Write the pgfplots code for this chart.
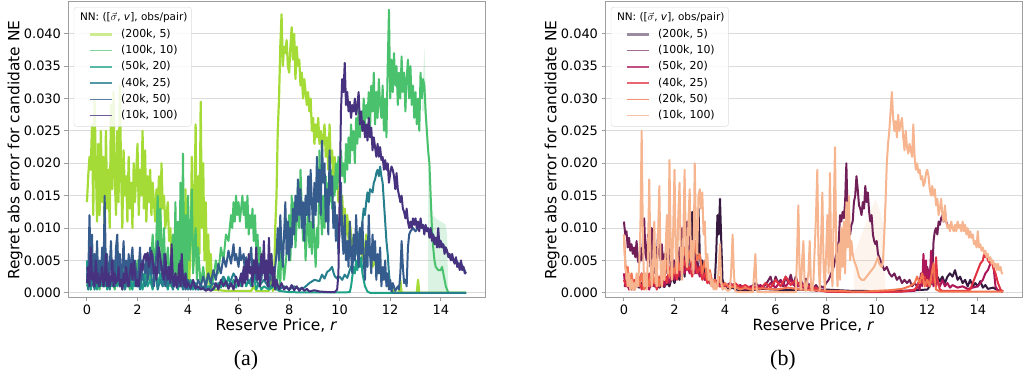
\documentclass[border=0pt]{standalone}
\usepackage{pgfplots}
\pgfplotsset{compat=1.18}
\usepackage{fontspec}
\setmainfont{DejaVu Sans}
\newfontfamily\capfont{Liberation Serif}
\definecolor{v1}{HTML}{A5DB36}
\definecolor{v2}{HTML}{4AC16D}
\definecolor{v3}{HTML}{1FA187}
\definecolor{v4}{HTML}{277F8E}
\definecolor{v5}{HTML}{365C8D}
\definecolor{v6}{HTML}{46327E}
\definecolor{r1}{HTML}{35193E}
\definecolor{r2}{HTML}{701F57}
\definecolor{r3}{HTML}{AD1759}
\definecolor{r4}{HTML}{E13342}
\definecolor{r5}{HTML}{F37651}
\definecolor{r6}{HTML}{F6B48F}
\definecolor{spine}{rgb}{0.62,0.62,0.62}
\definecolor{gridc}{rgb}{0.86,0.86,0.86}
\newcommand{\lf}{\fontsize{11}{13}\selectfont}
\newcommand{\ltitle}{\fontsize{10.5}{12.5}\selectfont\hspace*{-41bp}NN: ([$\vec{\sigma}$, \textit{v}], obs/pair)}
\pgfplotsset{
  myaxis/.style={
    scale only axis, width=417bp, height=296bp,
    xmin=-0.75, xmax=15.75, ymin=-0.8, ymax=44.9,
    xtick={0,2,4,6,8,10,12,14},
    ytick={0,5,10,15,20,25,30,35,40},
    yticklabels={0.000,0.005,0.010,0.015,0.020,0.025,0.030,0.035,0.040},
    /pgf/number format/assume math mode=true,
    tick label style={font=\fontsize{13}{15}\selectfont},
    axis line style={spine, line width=1bp},
    tick align=outside, tick pos=left, major tick length=3.5bp,
    tick style={spine, line width=1bp},
    ymajorgrids, major grid style={gridc, line width=1bp},
    xlabel={Reserve Price, \textit{r}},
    ylabel={Regret abs error for candidate NE},
    every axis x label/.style={at={(axis description cs:0.5,-0.093)}, anchor=center, font=\fontsize{15.5}{18}\selectfont},
    every axis y label/.style={at={(axis description cs:-0.127,0.5)}, rotate=90, anchor=center, font=\fontsize{15.5}{18}\selectfont},
    legend cell align=left,
    legend image code/.code={\path (0bp,0bp) (40bp,0bp); \draw[##1] (14bp,0bp) -- (36bp,0bp);},
    legend style={at={(0.014,0.983)}, anchor=north west, draw=gridc, rounded corners=2.5bp, fill=white, fill opacity=0.85, text opacity=1, font=\lf, inner xsep=0bp, inner ysep=2.5bp, row sep=0bp, nodes={inner xsep=4bp, inner ysep=2.15bp, text height=9bp, text depth=3bp}},
    every axis plot/.append style={line width=2bp, line join=round},
  }
}
\begin{document}
\begin{tikzpicture}
\useasboundingbox (0,0) rectangle (1026bp,379bp);
% ---------------- panel (a) ----------------
\begin{axis}[myaxis, at={(68bp,81bp)}, anchor=south west]
\addlegendimage{empty legend}
\addlegendentry{\ltitle}
\addlegendimage{v1!55!white, line width=3bp}\addlegendentry{\lf (200k, 5)}
\addlegendimage{v2!70!white, line width=1.5bp}\addlegendentry{\lf (100k, 10)}
\addlegendimage{v3!75!white, line width=1.5bp}\addlegendentry{\lf (50k, 20)}
\addlegendimage{v4!80!white, line width=1.5bp}\addlegendentry{\lf (40k, 25)}
\addlegendimage{v5!80!white, line width=1.5bp}\addlegendentry{\lf (20k, 50)}
\addlegendimage{v6!80!white, line width=1.5bp}\addlegendentry{\lf (10k, 100)}
% bands
\addplot[forget plot, draw=none, fill=v2, fill opacity=0.2] coordinates {(13.5,0)(13.5,20)(13.55,18)(13.6,14)(13.7,12)(13.8,11.5)(14,11)(14.2,10.5)(14.25,9)(14.3,0)} -- cycle;
\addplot[forget plot, draw=none, fill=v2, fill opacity=0.2] coordinates {(13.25,28)(13.35,38)(13.45,27)(13.5,20)(13.45,22)(13.35,28)} -- cycle;
% (200k,5)
\addplot[forget plot, v1, line width=2.2bp] coordinates {(0,14)(0.05,18)(0.1,21)(0.15,19)(0.2,26)(0.25,12)(0.3,30)(0.35,20)(0.4,11)(0.45,23)(0.5,12)(0.55,25)(0.6,14)(0.65,21)(0.7,9)(0.75,25)(0.8,13)(0.85,19)(0.9,10)(0.95,29)(1,16)(1.05,31)(1.1,18)(1.15,12)(1.2,25)(1.25,14)(1.3,32)(1.35,19)(1.4,10)(1.45,22)(1.5,15)(1.55,18)(1.6,11)(1.65,21)(1.7,13)(1.75,17)(1.8,10)(1.85,20)(1.9,14)(2,23)(2.05,12)(2.1,19)(2.15,15)(2.2,25)(2.25,13)(2.3,22)(2.35,11)(2.4,18)(2.45,14)(2.5,19)(2.55,12)(2.6,17)(2.7,11)(2.75,16)(2.8,13)(2.85,18)(2.9,10)(2.95,20)(3,13)(3.05,15)(3.1,10)(3.2,14)(3.25,8)(3.3,10)(3.35,5)(3.4,8)(3.45,3)(3.5,6)(3.55,2)(3.6,8)(3.65,1)(3.7,3)(3.75,1)(3.8,5)(3.85,1)(3.9,16)(3.95,3)(4,12)(4.05,2)(4.1,8)(4.15,21)(4.2,4)(4.25,12)(4.3,26)(4.35,3)(4.4,18)(4.45,6)(4.5,29.5)(4.55,10)(4.6,20)(4.65,5)(4.7,14)(4.75,2)(4.8,9)(4.85,1)(4.9,6)(4.95,0.5)(5.5,0.3)(6.5,0.3)(6.6,1)(6.7,0.3)(7.2,0.3)(7.3,2)(7.35,0.3)(7.4,0.5)(7.45,10)(7.5,15)(7.55,25)(7.6,30)(7.65,38)(7.7,43)(7.75,35)(7.8,38)(7.85,37)(7.9,39)(7.95,35)(8,34)(8.05,38)(8.1,41)(8.15,36)(8.2,40)(8.25,33)(8.3,38)(8.35,35)(8.4,36)(8.45,32)(8.5,34)(8.55,30)(8.6,33)(8.7,29)(8.75,31)(8.8,28)(8.85,30)(8.9,25)(8.95,27)(9,23)(9.05,26)(9.1,24)(9.15,27)(9.2,23)(9.25,25)(9.3,22)(9.4,26)(9.45,21)(9.5,24)(9.55,19)(9.6,26)(9.65,20)(9.7,22)(9.75,17)(9.8,21)(9.85,16)(9.9,18)(9.95,14)(10,16)(10.05,12)(10.1,15)(10.15,10)(10.2,13)(10.25,9)(10.3,12)(10.35,8)(10.4,11)(10.5,7)(10.6,9)(10.7,6)(10.8,8)(10.9,5)(11,7)(11.05,9)(11.1,8)(11.15,6)(11.2,7)(11.3,4)(11.4,5)(11.5,3)(11.6,4)(11.7,2)(11.8,2.5)(11.9,1)(12,1.5)(12.1,0.5)(12.2,0)(12.35,0)(12.4,2)(12.45,0)(13.05,0)(13.1,2)(13.15,0)(15,0)};
% (100k,10)
\addplot[forget plot, v2] coordinates {(0,1)(0.1,3)(0.15,0.5)(0.2,4)(0.3,1)(0.4,2)(0.5,0.5)(0.6,3)(0.7,1)(0.8,5)(0.9,1)(1,2)(1.1,0.5)(1.2,3)(1.3,1)(1.4,4)(1.5,1)(1.6,2)(1.7,0.5)(1.8,3)(1.9,1)(2,5)(2.1,1)(2.2,3)(2.3,1)(2.4,6)(2.5,2)(2.6,9)(2.7,3)(2.8,15)(2.85,4)(2.9,13)(3,3)(3.05,10)(3.1,2)(3.2,7)(3.3,1)(3.4,9)(3.45,2)(3.5,14)(3.55,3)(3.6,11)(3.65,1)(3.7,17)(3.75,4)(3.8,21.5)(3.85,3)(3.9,12)(3.95,2)(4,15)(4.05,5)(4.1,9)(4.15,16)(4.2,3)(4.3,10)(4.35,2)(4.4,7)(4.5,1)(4.6,4)(4.7,0.5)(4.8,3)(4.9,1)(5,2)(5.1,5)(5.2,3)(5.3,7)(5.4,5)(5.5,9)(5.6,8)(5.7,12)(5.75,10)(5.8,14)(5.85,11)(5.9,15)(5.95,12)(6,14)(6.05,11)(6.1,13)(6.15,15)(6.2,12)(6.25,14)(6.3,10)(6.35,15)(6.4,9)(6.45,12)(6.5,10)(6.55,13)(6.6,8)(6.65,12)(6.7,6)(6.75,9)(6.8,4)(6.85,7)(6.9,3)(7,5)(7.05,2)(7.1,4)(7.2,1)(7.3,6)(7.35,1)(7.4,3)(7.5,0.5)(7.6,5)(7.65,1)(7.7,8)(7.8,2)(7.9,6)(8,12)(8.05,5)(8.1,15)(8.15,9)(8.2,14)(8.25,7)(8.3,11)(8.35,17)(8.4,10)(8.45,19)(8.5,13)(8.55,8)(8.6,12)(8.65,5)(8.7,9)(8.75,14)(8.8,7)(8.85,11)(8.9,6)(8.95,13)(9,8)(9.05,4)(9.1,10)(9.15,7)(9.2,22)(9.25,13)(9.3,9)(9.35,15)(9.4,10)(9.45,18)(9.5,12)(9.55,17)(9.6,14)(9.65,19)(9.7,13)(9.75,18)(9.8,15)(9.85,20)(9.9,16)(9.95,21)(10,17)(10.05,22)(10.1,18)(10.15,20)(10.2,17)(10.25,23)(10.3,19)(10.35,24)(10.4,20)(10.45,26)(10.5,22)(10.55,25)(10.6,20)(10.65,27)(10.7,23)(10.75,29)(10.8,24)(10.85,28)(10.9,25)(10.95,30)(11,26)(11.05,29)(11.1,27)(11.15,31)(11.2,25)(11.25,32)(11.3,28)(11.35,34)(11.4,26)(11.45,31)(11.5,27)(11.55,33)(11.6,29)(11.65,27)(11.7,32)(11.75,25)(11.8,30)(11.85,24)(11.9,35)(11.95,43.7)(12,30)(12.05,36)(12.1,31)(12.15,37)(12.2,32)(12.25,35)(12.3,29)(12.35,34)(12.4,30)(12.45,36.5)(12.5,31)(12.55,34)(12.6,28)(12.65,33)(12.7,36)(12.75,30)(12.8,35)(12.85,29)(12.9,32)(12.95,27)(13,31)(13.05,26)(13.1,30)(13.15,25)(13.2,34)(13.25,30)(13.3,33)(13.35,32)(13.4,28)(13.45,25)(13.5,22)(13.55,20)(13.6,15)(13.65,10)(13.7,7)(13.75,5)(13.8,4)(13.9,3.5)(14,3.5)(14.05,4)(14.1,3)(14.15,2)(14.2,1)(14.3,0)(15,0)};
% (50k,20)
\addplot[forget plot, v3] coordinates {(0,5)(0.05,1)(0.1,3)(0.15,0.5)(0.2,2)(0.3,1)(0.35,3)(0.4,0.5)(0.5,2)(0.6,1)(0.7,3)(0.8,0.5)(0.9,2)(1,1)(1.1,4)(1.2,1)(1.3,2)(1.4,0.5)(1.5,3)(1.6,1)(1.7,2)(1.8,0.5)(1.9,4)(2,1)(2.1,2)(2.2,0.5)(2.3,3)(2.4,1)(2.5,2)(2.6,0.5)(2.7,4)(2.8,1)(2.9,3)(3,1)(3.1,2)(3.2,0.5)(3.3,3)(3.4,1)(3.5,2)(3.6,0.5)(3.7,2)(3.8,1)(3.9,3)(4,1)(4.1,2)(4.2,0.5)(4.3,1.5)(4.4,0.5)(4.5,1)(4.6,0.5)(4.8,1)(5,0.5)(5.2,1.5)(5.3,0.8)(5.4,2)(5.5,1)(5.6,2.5)(5.7,1)(5.8,2)(5.9,0.8)(6,2)(6.1,1)(6.2,3)(6.3,1)(6.4,2)(6.5,1)(6.6,2.5)(6.7,0.5)(6.8,1.5)(6.9,0.5)(7,1)(7.2,0.5)(7.4,1)(7.6,0.3)(7.8,0.2)(8,0.1)(9,0.05)(10,0.05)(10.4,0.1)(10.45,1)(10.5,2.5)(10.55,4)(10.6,3)(10.65,5)(10.7,3.5)(10.75,6)(10.8,4)(10.85,5.5)(10.9,3)(10.95,2)(11,1)(11.1,0.2)(11.2,0)(15,0)};
% (40k,25)
\addplot[forget plot, v4] coordinates {(0,3)(0.05,0.5)(0.1,6)(0.15,1)(0.2,3)(0.3,0.5)(0.4,2.5)(0.5,1)(0.6,4)(0.7,1)(0.8,2)(0.9,0.5)(1,3)(1.1,1)(1.2,5)(1.3,1.5)(1.4,3)(1.5,0.5)(1.6,2)(1.7,1)(1.8,4)(1.9,1)(2,2.5)(2.1,0.5)(2.2,3)(2.3,1)(2.4,2)(2.5,4)(2.6,1)(2.7,3)(2.8,0.5)(2.9,2)(3,1)(3.1,3.5)(3.2,1)(3.3,2)(3.4,0.5)(3.5,2.5)(3.6,1)(3.7,2)(3.8,0.5)(3.9,1.5)(4,0.5)(4.2,1.5)(4.4,0.5)(4.6,1)(4.8,0.5)(5,1.5)(5.2,1)(5.4,2.5)(5.6,1)(5.8,3)(6,1.5)(6.2,3.5)(6.4,1.5)(6.6,3)(6.8,1)(7,2)(7.2,0.8)(7.4,1.5)(7.6,0.5)(7.8,1)(8,0.5)(8.2,1)(8.4,0.6)(8.6,0.8)(8.8,1.5)(9,2)(9.2,1.8)(9.3,2.8)(9.4,2.2)(9.5,3.2)(9.6,3.5)(9.7,4)(9.75,3.2)(9.8,2.6)(9.9,2.2)(10,2.5)(10.1,2)(10.2,2.8)(10.3,2.3)(10.4,3.5)(10.5,4.5)(10.6,5.5)(10.7,7)(10.75,8.5)(10.8,10)(10.85,9)(10.9,11)(10.95,13)(11,12)(11.05,14)(11.1,15.5)(11.15,14)(11.2,16)(11.3,15.5)(11.35,17)(11.4,17.5)(11.45,18.5)(11.5,19)(11.55,18)(11.6,19.5)(11.65,18)(11.7,17)(11.75,14)(11.8,11)(11.85,8)(11.9,6)(11.95,3)(12,1)(12.1,0)(15,0)};
% (20k,50)
\addplot[forget plot, v5] coordinates {(0,4)(0.05,2)(0.1,12)(0.15,3)(0.2,9)(0.25,1)(0.3,6)(0.35,2)(0.4,8)(0.45,1)(0.5,5)(0.55,2)(0.6,7)(0.65,1)(0.7,15)(0.75,3)(0.8,6)(0.85,1)(0.9,4)(0.95,8)(1,2)(1.05,5)(1.1,1)(1.15,7)(1.2,9)(1.25,2)(1.3,6)(1.35,1)(1.4,4)(1.45,8)(1.5,2)(1.55,5)(1.6,1)(1.65,6)(1.7,3)(1.8,7)(1.85,2)(1.9,5)(2,1)(2.05,4)(2.1,7)(2.15,2)(2.2,5)(2.3,3)(2.35,6)(2.4,2)(2.5,7)(2.55,3)(2.6,6)(2.65,1)(2.7,4)(2.8,8)(2.85,3)(2.9,5)(3,2)(3.05,6)(3.1,1)(3.2,4)(3.3,2)(3.35,6)(3.4,1)(3.5,3)(3.6,1)(3.7,5)(3.75,1)(3.8,3)(3.9,0.5)(4,2)(4.1,0.5)(4.2,1.5)(4.3,0.5)(4.4,2)(4.5,1)(4.6,2.5)(4.7,1)(4.8,3)(4.9,1.5)(5,3.5)(5.1,2)(5.2,4.5)(5.3,3)(5.4,5.5)(5.5,4)(5.6,6.5)(5.7,4.5)(5.8,7.5)(5.85,5)(5.9,6)(6,4)(6.05,7)(6.1,5)(6.2,6)(6.25,3)(6.3,5.5)(6.4,4)(6.5,7)(6.55,3)(6.6,5)(6.7,2)(6.8,4.5)(6.9,2)(7,6)(7.05,2)(7.1,5)(7.2,1)(7.3,4)(7.4,2)(7.5,6)(7.55,10)(7.6,5)(7.65,12)(7.7,7)(7.75,4)(7.8,9)(7.85,14)(7.9,6)(7.95,11)(8,5)(8.05,10)(8.1,7)(8.15,13)(8.2,9)(8.25,15)(8.3,11)(8.35,17.5)(8.4,12)(8.45,16)(8.5,10)(8.55,14)(8.6,8)(8.65,15)(8.7,12)(8.75,18)(8.8,11)(8.85,19)(8.9,14)(8.95,10)(9,17)(9.05,12)(9.1,21)(9.15,14)(9.2,19)(9.25,12)(9.3,23.5)(9.35,17)(9.4,20)(9.45,11)(9.5,16)(9.55,9)(9.6,22)(9.65,15)(9.7,18)(9.75,10)(9.8,14)(9.85,8)(9.9,12)(9.95,6)(10,10)(10.05,17)(10.1,9)(10.15,6)(10.2,12)(10.25,5)(10.3,8)(10.35,4)(10.4,11)(10.45,6)(10.5,3)(10.55,9)(10.6,5)(10.65,12)(10.7,7)(10.75,4)(10.8,10)(10.85,6)(10.9,11)(10.95,5)(11,2)(11.05,8)(11.1,4)(11.15,12)(11.2,6)(11.25,3)(11.3,9)(11.35,5)(11.4,8)(11.45,2)(11.5,6)(11.55,3)(11.6,7)(11.65,1)(11.7,4)(11.75,2)(11.8,5)(11.85,1)(11.9,3)(11.95,0.5)(12,2)(12.05,0.2)(12.1,1.5)(12.2,0.3)(12.3,1)(12.35,0.5)(12.4,3)(12.45,8)(12.5,4)(12.55,1.5)(12.6,2)(12.65,1)(12.7,7)(12.75,9)(12.8,9.5)(12.9,10)(13,9.5)(13.1,10)(13.2,10.5)(13.3,10)(13.4,10.2)(13.5,9.8)(13.6,9.6)(13.7,8.8)(13.8,8.3)(13.9,8.5)(14,7.8)(14.1,7.3)(14.2,6.8)(14.3,5.8)(14.4,5.2)(14.5,5)(14.6,5.2)(14.7,4.4)(14.8,4.6)(14.9,3.8)(15,3)};
% (10k,100)
\addplot[forget plot, v6] coordinates {(0,1.5)(0.05,4)(0.1,1)(0.15,7)(0.2,2)(0.25,3)(0.3,1)(0.35,5)(0.4,1.5)(0.45,3)(0.5,1)(0.55,2)(0.6,4)(0.65,1)(0.7,2)(0.75,6)(0.8,1)(0.85,3)(0.9,1)(0.95,2)(1,5)(1.05,1)(1.1,3)(1.15,1.5)(1.2,2)(1.25,4)(1.3,1)(1.35,2)(1.4,0.5)(1.45,3)(1.5,1.5)(1.55,4)(1.6,2)(1.65,1)(1.7,3)(1.75,4.5)(1.8,2)(1.85,5)(1.9,3)(1.95,1)(2,2)(2.05,1)(2.1,3)(2.15,4.5)(2.2,3.5)(2.25,5.5)(2.3,6)(2.35,5)(2.4,6.2)(2.45,4)(2.5,5)(2.55,6.5)(2.6,5)(2.65,3)(2.7,4)(2.75,2)(2.8,5)(2.85,7)(2.9,5.5)(2.95,4)(3,3)(3.05,2)(3.1,6)(3.15,3)(3.2,2)(3.25,4)(3.3,1.5)(3.35,7.5)(3.4,2)(3.45,1)(3.5,3)(3.55,0.8)(3.6,2)(3.65,4.5)(3.7,1)(3.75,6)(3.8,2)(3.85,1)(3.9,3)(3.95,0.8)(4,1.5)(4.1,0.8)(4.2,2)(4.3,0.7)(4.4,1)(4.5,0.5)(4.6,0.8)(4.7,0.3)(4.8,0.6)(4.9,0.3)(5,0.6)(5.1,1.5)(5.2,0.5)(5.3,2)(5.4,1)(5.5,1.8)(5.6,0.6)(5.7,1.5)(5.8,0.5)(5.9,2.5)(6,1)(6.1,3)(6.15,1)(6.2,4)(6.25,1.5)(6.3,5)(6.35,2)(6.4,6)(6.45,3)(6.5,4)(6.55,1)(6.6,5)(6.65,3)(6.7,7)(6.75,2)(6.8,4)(6.85,1)(6.9,6)(6.95,3)(7,8)(7.05,2)(7.1,5)(7.15,1)(7.2,8.5)(7.25,3)(7.3,6)(7.35,1)(7.4,4)(7.45,0.5)(7.5,2)(7.6,0.5)(7.7,1.5)(7.8,0.5)(7.9,1)(8,0.4)(8.1,1.2)(8.2,0.4)(8.3,1)(8.4,0.3)(8.5,0.8)(8.6,0.3)(8.7,0.6)(8.8,0.2)(9,0.4)(9.2,0.2)(9.4,0.15)(9.6,0.1)(9.8,0.1)(9.9,0.5)(9.95,3)(10,15)(10.05,28)(10.1,33)(10.15,31)(10.2,35.5)(10.25,29)(10.3,31)(10.35,28)(10.4,29.5)(10.45,27)(10.5,29)(10.55,28)(10.6,30)(10.65,27.5)(10.7,29)(10.75,31)(10.8,26)(10.85,28)(10.9,25)(10.95,26.5)(11,24)(11.05,26)(11.1,23.5)(11.15,27)(11.2,24)(11.25,25.5)(11.3,22)(11.35,24)(11.4,22.5)(11.45,21)(11.5,23)(11.55,21)(11.6,22.5)(11.65,20.5)(11.7,21)(11.75,19)(11.8,20.5)(11.85,19)(11.9,20)(11.95,17)(12,18.5)(12.05,19.5)(12.1,19)(12.15,18)(12.2,16)(12.25,18.5)(12.3,16)(12.35,15)(12.4,14)(12.45,15)(12.5,13)(12.55,12.5)(12.6,11.5)(12.65,13)(12.7,11)(12.75,10)(12.8,11)(12.85,10)(12.9,11.5)(12.95,10.5)(13,11.5)(13.05,10)(13.1,11)(13.15,9.5)(13.2,11.5)(13.25,10)(13.3,10.5)(13.35,9)(13.4,10.5)(13.45,9.5)(13.5,10)(13.55,8.5)(13.6,10)(13.65,8)(13.7,9)(13.75,7.5)(13.8,8.5)(13.85,7)(13.9,10)(13.95,7)(14,8)(14.05,7)(14.1,7.5)(14.15,6)(14.2,7)(14.25,6.5)(14.3,5.5)(14.35,6)(14.4,5)(14.45,6)(14.5,5)(14.55,4.5)(14.6,5.5)(14.65,4)(14.7,4.5)(14.75,3.5)(14.8,5)(14.85,3.5)(14.9,4)(14.95,3)(15,3)};
\end{axis}
% ---------------- panel (b) ----------------
\begin{axis}[myaxis, at={(605bp,81bp)}, anchor=south west]
\addlegendimage{empty legend}
\addlegendentry{\ltitle}
\addlegendimage{r1!50!white, line width=3bp}\addlegendentry{\lf (200k, 5)}
\addlegendimage{r2!65!white, line width=1.5bp}\addlegendentry{\lf (100k, 10)}
\addlegendimage{r3!75!white, line width=1.5bp}\addlegendentry{\lf (50k, 20)}
\addlegendimage{r4!75!white, line width=1.5bp}\addlegendentry{\lf (40k, 25)}
\addlegendimage{r5!80!white, line width=1.5bp}\addlegendentry{\lf (20k, 50)}
\addlegendimage{r6!80!white, line width=1.5bp}\addlegendentry{\lf (10k, 100)}
\addplot[forget plot, draw=none, fill=r6, fill opacity=0.15] coordinates {(9.1,0.3)(9.1,6)(9.4,9)(9.7,12)(9.95,14.5)(10.1,13)(10.3,10)(10.35,0.3)} -- cycle;
% (200k,5)
\addplot[forget plot, r1] coordinates {(0,1)(0.1,1.2)(0.2,0.8)(0.3,1.5)(0.4,0.7)(0.5,1.2)(0.6,0.8)(0.7,1.5)(0.8,0.6)(0.9,1.3)(1,0.8)(1.1,1.8)(1.2,1)(1.3,1.5)(1.4,0.8)(1.5,1.2)(1.6,0.9)(1.7,1.6)(1.8,1)(1.9,2.5)(2,1.5)(2.1,3)(2.2,2)(2.25,7)(2.3,3)(2.35,5)(2.4,2.5)(2.5,9)(2.55,4)(2.6,8)(2.65,5)(2.7,12.5)(2.75,6)(2.8,4)(2.85,8)(2.9,5)(2.95,13)(3,6)(3.05,4)(3.1,5)(3.2,3)(3.3,2)(3.4,1.5)(3.5,1)(3.6,2)(3.65,6)(3.7,12)(3.75,9)(3.8,14.5)(3.85,8)(3.9,2)(4,1)(4.1,0.5)(4.3,0.8)(4.5,0.3)(5,0.4)(5.5,0.6)(6,0.5)(6.5,0.4)(7,0.5)(7.5,0.4)(8,0.5)(8.5,0.4)(9,0.3)(9.5,0.3)(10,0.2)(10.5,0.2)(11,0.3)(11.5,0.4)(12,0.5)(12.1,1)(12.2,2)(12.3,1.5)(12.4,2.5)(12.5,1.8)(12.6,2.5)(12.7,1.5)(12.8,2.5)(12.9,3)(13,2.5)(13.1,3.5)(13.2,2)(13.3,2.5)(13.4,1.5)(13.5,2)(13.6,1)(13.7,2)(13.8,1)(13.9,1.5)(14,1)(14.1,1.8)(14.2,0.8)(14.3,1.2)(14.4,0.6)(14.6,0.8)(14.8,0.4)(15,0.2)};
% (100k,10)
\addplot[forget plot, r2] coordinates {(0,11)(0.05,9)(0.1,9.5)(0.15,7)(0.2,8.5)(0.25,6.5)(0.3,7.5)(0.35,6)(0.4,7)(0.45,5.5)(0.5,8)(0.55,5)(0.6,4.5)(0.65,7)(0.7,5)(0.75,8)(0.8,11.5)(0.85,6)(0.9,5)(0.95,9)(1,7)(1.05,4)(1.1,10)(1.15,6)(1.2,3)(1.25,7)(1.3,4.5)(1.35,9.5)(1.4,6)(1.45,5)(1.5,7.5)(1.55,4)(1.6,6)(1.65,3)(1.7,8)(1.75,5)(1.8,7)(1.85,4)(1.9,6)(1.95,3)(2,5)(2.05,4)(2.1,6.5)(2.15,3)(2.2,7)(2.25,4)(2.3,10)(2.35,5)(2.4,7)(2.45,4)(2.5,11)(2.55,6)(2.6,12)(2.65,5)(2.7,8)(2.75,4)(2.8,6)(2.85,3)(2.9,5)(3,3)(3.1,4)(3.2,2)(3.3,2.5)(3.4,1.5)(3.5,2)(3.6,1)(3.7,1.5)(3.8,1)(3.9,1.5)(4,0.8)(4.2,1.5)(4.4,0.8)(4.6,1)(4.8,0.5)(5,0.8)(5.2,1.5)(5.4,0.8)(5.6,1.2)(5.8,2.5)(5.9,1)(6,2.5)(6.1,1.5)(6.2,2)(6.3,1)(6.4,2.5)(6.5,1.5)(6.6,2.8)(6.7,1.2)(6.8,2.5)(6.9,1)(7,2)(7.1,0.8)(7.2,2.2)(7.3,1)(7.4,1.5)(7.5,0.7)(7.6,1.2)(7.7,0.6)(7.8,1)(7.9,0.8)(8,1.5)(8.1,2)(8.2,3)(8.3,4)(8.4,6)(8.5,8)(8.55,12)(8.6,11)(8.65,12.5)(8.7,11.5)(8.75,14)(8.8,20)(8.85,12)(8.9,10)(8.95,9)(9,10.5)(9.05,11)(9.1,14)(9.15,15)(9.2,18)(9.25,16)(9.3,13.5)(9.35,13)(9.4,12)(9.45,14)(9.5,13)(9.55,16.5)(9.6,14)(9.65,15.5)(9.7,12.5)(9.75,11)(9.8,12)(9.85,9)(9.9,8)(9.95,7.5)(10,8)(10.05,6)(10.1,5.5)(10.15,5)(10.2,4.5)(10.3,3.5)(10.4,4)(10.5,3)(10.6,2.5)(10.7,3)(10.8,2)(10.9,2.5)(11,1.5)(11.1,2)(11.2,1.5)(11.3,2)(11.4,1)(11.5,1.5)(11.6,1)(11.7,2)(11.8,3)(11.9,2)(12,4)(12.05,3)(12.1,2.5)(12.15,4.5)(12.2,3)(12.25,8)(12.3,9.5)(12.35,10)(12.4,9)(12.45,11)(12.5,10.5)(12.55,11.5)(12.6,12)(12.65,11)(12.7,12.5)(12.75,11)(12.8,10.5)(12.85,10)(12.95,10)};
% (50k,20)
\addplot[forget plot, r3] coordinates {(0,3)(0.05,1)(0.1,2)(0.2,0.5)(0.3,1.5)(0.4,0.5)(0.5,2)(0.6,1)(0.7,3)(0.8,1)(0.9,2)(1,0.5)(1.1,2.5)(1.2,1)(1.3,2)(1.4,1)(1.5,3)(1.6,1)(1.7,2.5)(1.8,1.5)(1.9,3.5)(2,2)(2.1,4)(2.2,2.5)(2.3,5)(2.4,3)(2.5,4.5)(2.6,3)(2.7,5.5)(2.8,3)(2.9,4)(3,2.5)(3.1,3.5)(3.2,2)(3.3,3)(3.4,1.5)(3.5,2)(3.6,1)(3.7,2)(3.8,1)(3.9,1.5)(4,1)(4.2,1.5)(4.4,0.8)(4.6,1.2)(4.8,0.6)(5,1)(5.2,0.7)(5.4,1.2)(5.6,0.6)(5.8,1.5)(6,0.8)(6.2,1.8)(6.4,1)(6.6,2)(6.8,0.8)(7,1.5)(7.2,0.5)(7.4,1)(7.6,0.3)(7.8,0.5)(8,0.2)(9,0.15)(10,0.15)(11,0.2)(11.5,0.3)(11.6,1)(11.7,0.5)(11.75,3)(11.8,1)(11.85,6)(11.9,2)(11.95,5)(12,1)(12.05,3.5)(12.1,1)(12.15,6.5)(12.2,2)(12.25,1)(12.3,4)(12.35,1)(12.4,2)(12.5,1)(12.6,2)(12.7,1)(12.8,1.5)(12.9,0.8)(13,1.2)(13.2,0.8)(13.4,1)(13.6,0.6)(13.8,0.8)(14,1)(14.1,1.5)(14.2,2)(14.3,3)(14.4,3.5)(14.5,4.5)(14.55,5)(14.6,4.8)(14.65,3)(14.7,1)(14.8,0.3)(15,0.2)};
% (40k,25)
\addplot[forget plot, r4] coordinates {(0,2)(0.1,1)(0.2,3)(0.3,0.5)(0.4,2)(0.5,1)(0.6,2.5)(0.7,0.5)(0.8,2)(0.9,1)(1,3)(1.1,1)(1.2,2)(1.3,0.5)(1.4,2.5)(1.5,1)(1.6,3)(1.7,1.5)(1.8,4)(1.9,2)(2,3.5)(2.1,2)(2.2,4.5)(2.3,3)(2.4,5)(2.5,3.5)(2.6,4)(2.7,2.5)(2.8,5)(2.9,3)(3,4)(3.1,2)(3.2,3)(3.3,1.5)(3.4,2)(3.5,1)(3.6,1.5)(3.8,1)(4,1.2)(4.2,0.8)(4.4,1.5)(4.6,0.8)(4.8,1.2)(5,0.7)(5.2,1)(5.4,0.6)(5.6,1.5)(5.8,0.8)(6,2)(6.2,1)(6.4,2.5)(6.6,1.2)(6.8,2)(7,0.8)(7.2,1.5)(7.4,0.6)(7.6,0.8)(7.8,0.3)(8,0.2)(9,0.1)(10,0.1)(11,0.2)(11.5,0.5)(11.6,1)(11.7,2)(11.8,1.5)(11.9,2.5)(12,1)(12.1,2)(12.2,1.5)(12.3,3)(12.35,5.5)(12.4,2)(12.5,0.5)(12.6,0.3)(13,0.3)(13.5,0.3)(13.7,0.5)(13.8,1.5)(13.9,2.5)(14,3.5)(14.1,4.5)(14.2,5)(14.25,6)(14.3,5.5)(14.35,6)(14.4,5)(14.5,4.5)(14.55,5)(14.6,4)(14.7,3)(14.8,1.5)(14.9,0.5)(15,0.2)};
% (20k,50)
\addplot[forget plot, r5] coordinates {(0,9)(0.05,5)(0.1,2)(0.15,4)(0.2,1)(0.3,3)(0.4,0.5)(0.5,2)(0.6,1)(0.7,3)(0.8,0.5)(0.9,2.5)(1,1)(1.1,4)(1.2,1.5)(1.3,3)(1.4,1)(1.5,4)(1.6,2)(1.7,5)(1.8,2.5)(1.9,4)(2,3)(2.1,6)(2.2,3.5)(2.3,5)(2.4,7)(2.5,4)(2.6,6.5)(2.7,4)(2.8,8)(2.9,5)(3,6)(3.1,3)(3.2,5)(3.3,2)(3.4,3.5)(3.5,1.5)(3.6,2)(3.7,1)(3.8,2.5)(3.9,1)(4,1.5)(4.2,0.8)(4.4,1)(4.6,0.5)(4.8,0.8)(5,0.5)(5.5,0.7)(6,0.5)(6.5,0.8)(7,0.5)(7.5,0.4)(8,0.3)(8.5,0.3)(9,0.2)(9.5,0.2)(10,0.3)(10.5,0.4)(11,0.6)(11.3,1)(11.5,1.5)(11.6,2.5)(11.7,1.5)(11.8,3)(11.9,1)(12,2)(12.1,1)(12.2,3.5)(12.25,4.5)(12.3,2)(12.35,0.5)(12.5,0.2)(15,0.2)};
% (10k,100)
\addplot[forget plot, r6] coordinates {(0,9)(0.05,4)(0.1,3)(0.15,1)(0.2,3)(0.25,0.5)(0.3,2)(0.35,0.5)(0.4,1.5)(0.45,0.5)(0.5,3)(0.55,1)(0.6,4)(0.65,10)(0.7,25)(0.75,8)(0.8,1)(0.85,3)(0.9,0.5)(0.95,6)(1,17.5)(1.05,5)(1.1,1)(1.15,4)(1.2,11)(1.25,2)(1.3,1)(1.35,9)(1.4,16.5)(1.45,4)(1.5,1)(1.55,5)(1.6,2)(1.65,7)(1.7,12)(1.75,3)(1.8,20.5)(1.85,7)(1.9,2)(1.95,10)(2,19)(2.05,6)(2.1,3)(2.15,12)(2.2,17)(2.25,5)(2.3,2)(2.35,9)(2.4,19)(2.45,6)(2.5,4)(2.55,11)(2.6,16)(2.65,5)(2.7,8)(2.75,3)(2.8,20)(2.85,9)(2.9,6)(2.95,15)(3,16)(3.05,13)(3.1,15.5)(3.15,9)(3.2,11)(3.25,4)(3.3,6)(3.35,2)(3.4,3)(3.45,1)(3.5,2)(3.55,0.5)(3.6,1.5)(3.65,0.5)(3.7,1)(3.75,4)(3.8,7.5)(3.85,1.5)(3.9,0.5)(4,0.8)(4.1,0.3)(4.2,0.5)(4.25,4)(4.3,9)(4.35,3)(4.4,0.3)(4.5,0.1)(5.1,0.1)(5.15,3)(5.2,6)(5.25,0.5)(5.3,0.1)(6.8,0.1)(6.85,6)(6.9,13.5)(6.95,3)(7,0.5)(7.05,5)(7.1,8)(7.15,1)(7.2,0.3)(7.3,3)(7.35,8)(7.4,1)(7.45,0.3)(7.5,2)(7.55,7)(7.6,12)(7.65,19)(7.7,5)(7.75,0.5)(7.8,8)(7.85,15.5)(7.9,4)(7.95,0.5)(8,6)(8.05,12)(8.1,3)(8.15,18.5)(8.2,5)(8.25,1)(8.3,12)(8.35,22.5)(8.4,6)(8.45,1)(8.5,7.5)(8.55,2)(8.6,10)(8.65,4)(8.7,11)(8.75,3)(8.8,14)(8.85,7)(8.9,15)(8.95,5)(9,8)(9.05,6)(9.1,5)(9.2,4)(9.3,2.5)(9.4,2)(9.5,2)(9.6,2.5)(9.7,3)(9.8,3.5)(9.9,4)(10,5)(10.05,5.5)(10.1,4.5)(10.2,4)(10.25,5)(10.3,9)(10.35,14)(10.4,20)(10.45,23)(10.5,25)(10.55,28)(10.6,31)(10.65,27)(10.7,25)(10.75,26.5)(10.8,24)(10.85,27.5)(10.9,25)(10.95,26)(11,27)(11.05,24)(11.1,22)(11.15,25)(11.2,22.5)(11.25,21.5)(11.3,23)(11.35,22)(11.4,21)(11.45,26)(11.5,21)(11.55,19)(11.6,20)(11.65,18.5)(11.7,19)(11.75,17.5)(11.8,18)(11.85,16.5)(11.9,17)(11.95,18.5)(12,19)(12.05,18)(12.1,16)(12.15,15)(12.2,16.5)(12.25,15)(12.3,16)(12.35,13.5)(12.4,14.5)(12.45,12)(12.5,13)(12.55,14.5)(12.6,12)(12.65,11)(12.7,13.5)(12.75,11)(12.8,10)(12.85,10.5)(12.9,9.5)(12.95,11)(13,10)(13.05,9.5)(13.1,10.5)(13.15,9.5)(13.2,11)(13.25,10)(13.3,10.5)(13.35,9.5)(13.4,11)(13.45,9.5)(13.5,10.5)(13.55,9)(13.6,10)(13.65,8.5)(13.7,9.5)(13.75,8.5)(13.8,9)(13.85,7.5)(13.9,8)(13.95,7)(14,9.5)(14.05,7)(14.1,7.5)(14.15,6.5)(14.2,7)(14.25,6)(14.3,6.5)(14.35,5.5)(14.4,6)(14.45,5)(14.5,5.5)(14.55,4.5)(14.6,5)(14.65,4)(14.7,4.5)(14.75,3.5)(14.8,4.5)(14.85,3.5)(14.9,4)(14.95,3)(15,3)};
\end{axis}
\node[font=\capfont\fontsize{22}{26}\selectfont] at (246bp,19bp) {(a)};
\node[font=\capfont\fontsize{22}{26}\selectfont] at (783bp,19bp) {(b)};
\end{tikzpicture}
\end{document}
